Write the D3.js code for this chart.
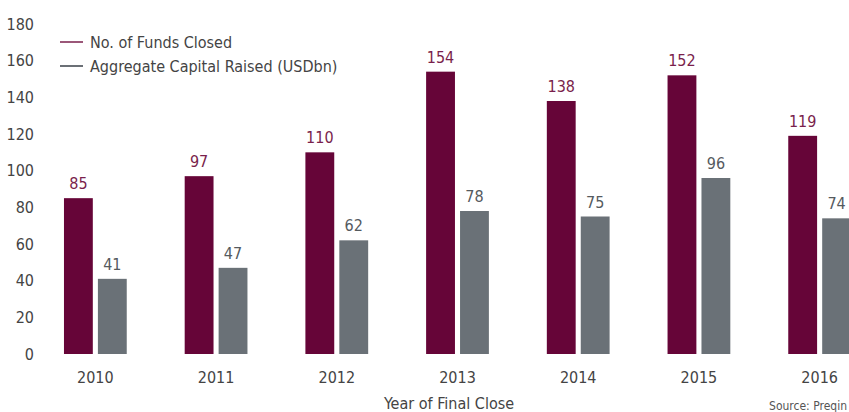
<!DOCTYPE html>
<html>
<head>
<meta charset="utf-8">
<script src="https://cdnjs.cloudflare.com/ajax/libs/d3/7.8.5/d3.min.js"></script>
<style>
  body { margin: 0; background: #fff; }
  text { font-family: "Liberation Sans Narrow", "DejaVu Sans Condensed", sans-serif; }
</style>
</head>
<body>
<div id="container"></div>
<script>
// chart data
var years = ["2010", "2011", "2012", "2013", "2014", "2015", "2016"];
var fundsClosed = [85, 97, 110, 154, 138, 152, 119];
var capitalRaised = [41, 47, 62, 78, 75, 96, 74];
var seriesNames = ["No. of Funds Closed", "Aggregate Capital Raised (USDbn)"];
var yTicks = [0, 20, 40, 60, 80, 100, 120, 140, 160, 180];

var w = 849, h = 412;
var colors = ["#660538", "#6a7177"];
var labelColors = ["#7a1f4c", "#555a5e"];

var svg = d3.select("#container").append("svg")
  .attr("width", w).attr("height", h);

var y = d3.scaleLinear().domain([0, 180]).range([354, 24]);

var x0 = d3.scaleBand().domain(years).range([35, 880])
  .paddingInner(0.48).paddingOuter(0.24);
var x1 = d3.scaleBand().domain([0, 1]).range([0, x0.bandwidth()]).paddingInner(0.15);

// y axis, labels only
var yAxis = d3.axisLeft(y).tickValues(yTicks).tickSize(0).tickPadding(0);
var gy = svg.append("g").attr("transform", "translate(34,0)").call(yAxis);
gy.select(".domain").remove();
gy.selectAll("text").attr("fill", "#444").style("font-size", "16px")
  .style("font-family", "'Liberation Sans Narrow', 'DejaVu Sans Condensed', sans-serif");

// x axis, labels only
var xAxis = d3.axisBottom(x0).tickSize(0).tickPadding(0);
var gx = svg.append("g").attr("transform", "translate(0,372)").call(xAxis);
gx.select(".domain").remove();
gx.selectAll("text").attr("fill", "#444").style("font-size", "16px")
  .style("font-family", "'Liberation Sans Narrow', 'DejaVu Sans Condensed', sans-serif");

var rows = years.map(function(yr, i) {
  return { year: yr, values: [fundsClosed[i], capitalRaised[i]] };
});

var groups = svg.selectAll("g.grp").data(rows).enter().append("g")
  .attr("class", "grp")
  .attr("transform", function(d) { return "translate(" + x0(d.year) + ",0)"; });

groups.selectAll("rect").data(function(d) { return d.values; }).enter().append("rect")
  .attr("x", function(d, i) { return x1(i); })
  .attr("y", function(d) { return y(d); })
  .attr("width", x1.bandwidth())
  .attr("height", function(d) { return y(0) - y(d); })
  .attr("fill", function(d, i) { return colors[i]; });

groups.selectAll("text.val").data(function(d) { return d.values; }).enter().append("text")
  .attr("class", "val")
  .attr("x", function(d, i) { return x1(i) + x1.bandwidth() / 2; })
  .attr("y", function(d) { return y(d) - 9; })
  .attr("text-anchor", "middle")
  .attr("fill", function(d, i) { return labelColors[i]; })
  .style("font-size", "16px")
  .text(function(d) { return d; });

// legend
var legend = svg.selectAll("g.leg").data(seriesNames).enter().append("g")
  .attr("class", "leg")
  .attr("transform", function(d, i) { return "translate(60," + (42 + i * 24) + ")"; });
legend.append("line").attr("x1", 0).attr("x2", 23).attr("y1", 0).attr("y2", 0)
  .attr("stroke", function(d, i) { return i == 0 ? "#7a1f4c" : "#3a4048"; })
  .attr("stroke-width", 1.5);
legend.append("text").attr("x", 30).attr("y", 6)
  .attr("fill", "#444").style("font-size", "16px")
  .text(function(d) { return d; });

// axis title and source
svg.append("text").attr("x", 449).attr("y", 409).attr("text-anchor", "middle")
  .attr("fill", "#444").style("font-size", "16px").text("Year of Final Close");
svg.append("text").attr("x", 847).attr("y", 410).attr("text-anchor", "end")
  .attr("fill", "#555").style("font-size", "12px").text("Source: Preqin");
</script>
</body>
</html>
